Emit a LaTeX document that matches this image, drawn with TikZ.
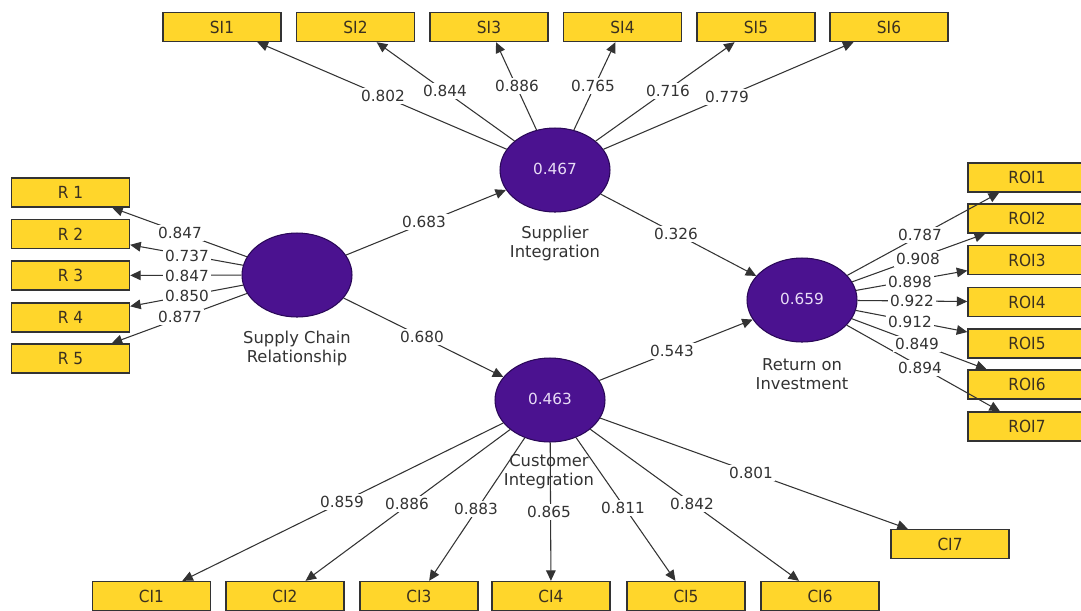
\documentclass[tikz,border=0pt]{standalone}
\usepackage{fontspec}
\setmainfont{DejaVu Sans}
\newfontfamily\boxfont[FakeStretch=0.92]{DejaVu Sans}
\usetikzlibrary{shapes.geometric,arrows.meta}
\definecolor{ylw}{HTML}{FFD62B}
\definecolor{lvpurple}{HTML}{4B1290}
\definecolor{lvborder}{HTML}{2A0858}
\definecolor{ink}{HTML}{333333}
\definecolor{boxtext}{HTML}{3A3020}
\definecolor{valtext}{HTML}{E9DDF7}
\begin{document}
\begin{tikzpicture}[x=0.02cm,y=-0.02cm,
  ind/.style={draw=black!80, fill=ylw, line width=0.8pt, minimum width=2.36cm, minimum height=0.58cm, inner sep=0pt, font=\boxfont\fontsize{9.5}{11}\selectfont, text=boxtext},
  lv/.style={ellipse, draw=lvborder, fill=lvpurple, line width=0.6pt, minimum width=2.2cm, minimum height=1.68cm, inner sep=0pt, font=\fontsize{8.7}{10}\selectfont, text=valtext},
  lvcap/.style={align=center, font=\fontsize{9.3}{10.8}\selectfont, text=ink},
  lbl/.style={fill=white, inner sep=1pt, font=\fontsize{8.7}{10}\selectfont, text=ink},
  arr/.style={draw=black!80, line width=0.6pt, -{Triangle[length=6pt,width=5.5pt]}},
]
\useasboundingbox (0,0) rectangle (1081,610);
\fill[white] (0,0) rectangle (1081,610);

% latent variables
\node[lv] (si)  at (555,170) {\raisebox{1.5pt}{0.467}};
\node[lv] (scr) at (297,275) {};
\node[lv] (roi) at (802,300) {\raisebox{1.5pt}{0.659}};
\node[lv] (ci)  at (550,400) {\raisebox{1.5pt}{0.463}};

% captions
\node[lvcap] (si-cap)  at (555,243) {Supplier\\Integration};
\node[lvcap] (scr-cap) at (297,348) {Supply Chain\\Relationship};
\node[lvcap] (roi-cap) at (802,374) {Return on\\Investment};
\node[lvcap] (ci-cap)  at (549,472) {Customer\\Integration};

% indicators: SI
\node[ind] (si1) at (222,27)   {SI1};
\node[ind] (si2) at (355.5,27) {SI2};
\node[ind] (si3) at (489,27)   {SI3};
\node[ind] (si4) at (622.5,27) {SI4};
\node[ind] (si5) at (756,27)   {SI5};
\node[ind] (si6) at (889,27)   {SI6};
% R
\node[ind] (r1) at (70.5,192.5) {R 1};
\node[ind] (r2) at (70.5,234)   {R 2};
\node[ind] (r3) at (70.5,275.5) {R 3};
\node[ind] (r4) at (70.5,317.5) {R 4};
\node[ind] (r5) at (70.5,358.5) {R 5};
% ROI
\node[ind] (roi1) at (1027,177.5) {ROI1};
\node[ind] (roi2) at (1027,218.5) {ROI2};
\node[ind] (roi3) at (1027,260)   {ROI3};
\node[ind] (roi4) at (1027,302)   {ROI4};
\node[ind] (roi5) at (1027,343.5) {ROI5};
\node[ind] (roi6) at (1027,384.5) {ROI6};
\node[ind] (roi7) at (1027,426.5) {ROI7};
% CI
\node[ind] (ci1) at (151.5,596) {CI1};
\node[ind] (ci2) at (285,596)   {CI2};
\node[ind] (ci3) at (419,596)   {CI3};
\node[ind] (ci4) at (551,596)   {CI4};
\node[ind] (ci5) at (686,596)   {CI5};
\node[ind] (ci6) at (820,596)   {CI6};
\node[ind] (ci7) at (950,544)   {CI7};

% structural paths
\draw[arr] (scr) -- (si);
\draw[arr] (scr) -- (ci);
\draw[arr] (si) -- (roi);
\draw[arr] (ci) -- (roi);

% outer loadings
\foreach \i in {1,...,6} {\draw[arr] (si) -- (si\i);}
\foreach \i in {1,...,5} {\draw[arr] (scr) -- (r\i);}
\foreach \i in {1,...,7} {\draw[arr] (roi) -- (roi\i);}
\foreach \i in {1,...,7} {\draw[arr] (ci) -- (ci\i);}

% labels: structural
\node[lbl] (l-scr-si)  at (424,222) {0.683};
\node[lbl] (l-scr-ci)  at (422,337) {0.680};
\node[lbl] (l-si-roi)  at (676,234) {0.326};
\node[lbl] (l-ci-roi)  at (672,351) {0.543};
% labels: SI
\node[lbl] (l-si1) at (383,96) {0.802};
\node[lbl] (l-si2) at (445,91) {0.844};
\node[lbl] (l-si3) at (517,86) {0.886};
\node[lbl] (l-si4) at (593,86) {0.765};
\node[lbl] (l-si5) at (668,91) {0.716};
\node[lbl] (l-si6) at (727,97) {0.779};
% labels: R
\node[lbl] (l-r1) at (180,233) {0.847};
\node[lbl] (l-r2) at (187,256) {0.737};
\node[lbl] (l-r3) at (187,276) {0.847};
\node[lbl] (l-r4) at (187,296) {0.850};
\node[lbl] (l-r5) at (180,317) {0.877};
% labels: ROI
\node[lbl] (l-roi1) at (920,235) {0.787};
\node[lbl] (l-roi2) at (918,259) {0.908};
\node[lbl] (l-roi3) at (910,282) {0.898};
\node[lbl] (l-roi4) at (912,301) {0.922};
\node[lbl] (l-roi5) at (910,322) {0.912};
\node[lbl] (l-roi6) at (917,344) {0.849};
\node[lbl] (l-roi7) at (920,368) {0.894};
% labels: CI
\node[lbl] (l-ci1) at (342,502) {0.859};
\node[lbl] (l-ci2) at (407,504) {0.886};
\node[lbl] (l-ci3) at (476,509) {0.883};
\node[lbl] (l-ci4) at (549,512) {0.865};
\node[lbl] (l-ci5) at (623,508) {0.811};
\node[lbl] (l-ci6) at (692,504) {0.842};
\node[lbl] (l-ci7) at (751,473) {0.801};
\end{tikzpicture}
\end{document}
